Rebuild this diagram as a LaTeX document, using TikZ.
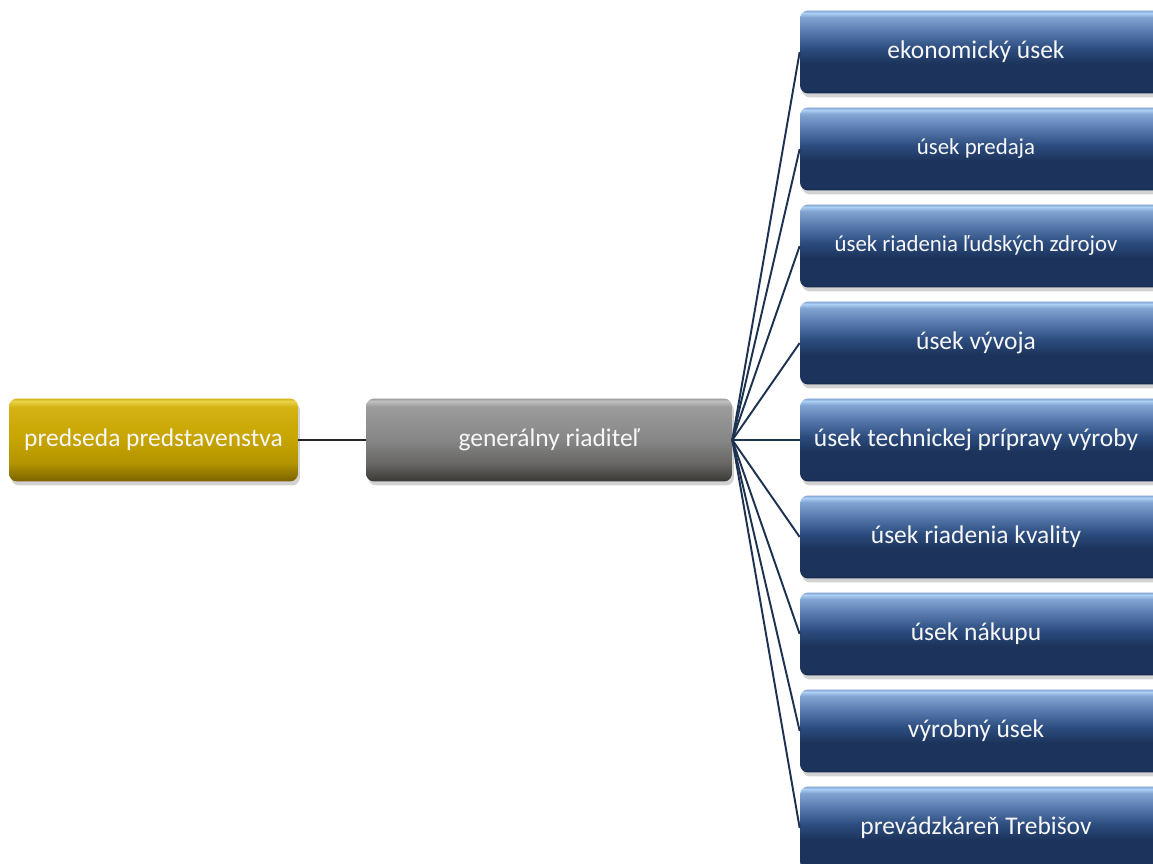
\documentclass[tikz,border=0pt]{standalone}
\usepackage{fontspec}
\setmainfont{Carlito}
\usetikzlibrary{shadows}

\definecolor{linenavy}{HTML}{1C3250}
\definecolor{bluehi}{HTML}{ADD0F5}
\definecolor{bluetop}{HTML}{82A4D2}
\definecolor{blueup}{HTML}{5678AC}
\definecolor{bluemid}{HTML}{2C4C7E}
\definecolor{bluedark}{HTML}{1C345C}
\definecolor{blueedge}{HTML}{14274A}
\definecolor{grayhi}{HTML}{C0C0C0}
\definecolor{graytop}{HTML}{9C9C9C}
\definecolor{graymid}{HTML}{868686}
\definecolor{graydark}{HTML}{3A3834}
\definecolor{yelhi}{HTML}{EAD24A}
\definecolor{yeltop}{HTML}{D4B314}
\definecolor{yelmid}{HTML}{C6A400}
\definecolor{yeldark}{HTML}{7A6200}

\pgfdeclareverticalshading{blueglass}{100bp}{color(0bp)=(blueedge); color(25bp)=(blueedge); color(27bp)=(bluedark); color(43bp)=(bluedark); color(52bp)=(bluemid); color(62bp)=(blueup); color(71bp)=(bluetop); color(73.5bp)=(bluehi); color(75bp)=(bluetop); color(100bp)=(bluetop)}
\pgfdeclareverticalshading{grayglass}{100bp}{color(0bp)=(graydark); color(25bp)=(graydark); color(36bp)=(graymid!60!graydark); color(50bp)=(graymid); color(70bp)=(graytop); color(73.5bp)=(grayhi); color(75bp)=(graytop); color(100bp)=(graytop)}
\pgfdeclareverticalshading{yelglass}{100bp}{color(0bp)=(yeldark); color(25bp)=(yeldark); color(36bp)=(yelmid!75!yeldark); color(50bp)=(yelmid); color(70bp)=(yeltop); color(73.5bp)=(yelhi); color(75bp)=(yeltop); color(100bp)=(yeltop)}

\tikzset{
  unitbox/.style={rounded corners=0.16cm, minimum height=1.66cm, inner sep=0pt,
    text=white!94!gray, drop shadow={opacity=0.35, shadow xshift=0.04cm, shadow yshift=-0.08cm}},
  bluebox/.style={unitbox, shading=blueglass, minimum width=7.24cm},
  link/.style={draw=linenavy, line width=1.1pt}
}

\begin{document}
\begin{tikzpicture}[x=0.02cm, y=-0.02cm]
\clip (0,0) rectangle (1153,864);
\fill[white] (0,0) rectangle (1153,864);
% predseda a generalny riaditel
\node[unitbox, shading=yelglass, minimum width=5.78cm] (pp) at (153.5,440) {\fontsize{14.5}{17}\selectfont predseda predstavenstva};
\node[unitbox, shading=grayglass, minimum width=7.32cm] (gr) at (549,440) {\fontsize{14.5}{17}\selectfont generálny riaditeľ};
% useky
\foreach \txt/\fs [count=\i] in {ekonomický úsek/14.5, úsek predaja/13, úsek riadenia ľudských zdrojov/13, úsek vývoja/14.5, úsek technickej prípravy výroby/14.5, úsek riadenia kvality/14.5, úsek nákupu/14.5, výrobný úsek/14.5, prevádzkáreň Trebišov/14.5}
  \node[bluebox] (u\i) at (981,{52+(\i-1)*97}) {\hspace*{-0.2cm}\fontsize{\fs}{17}\selectfont \txt};
\draw[draw=black!85, line width=1.1pt] (pp.east) -- (gr.west);
\foreach \i in {1,...,9}
  \draw[link] (gr.east) -- (u\i.west);
\end{tikzpicture}
\end{document}
